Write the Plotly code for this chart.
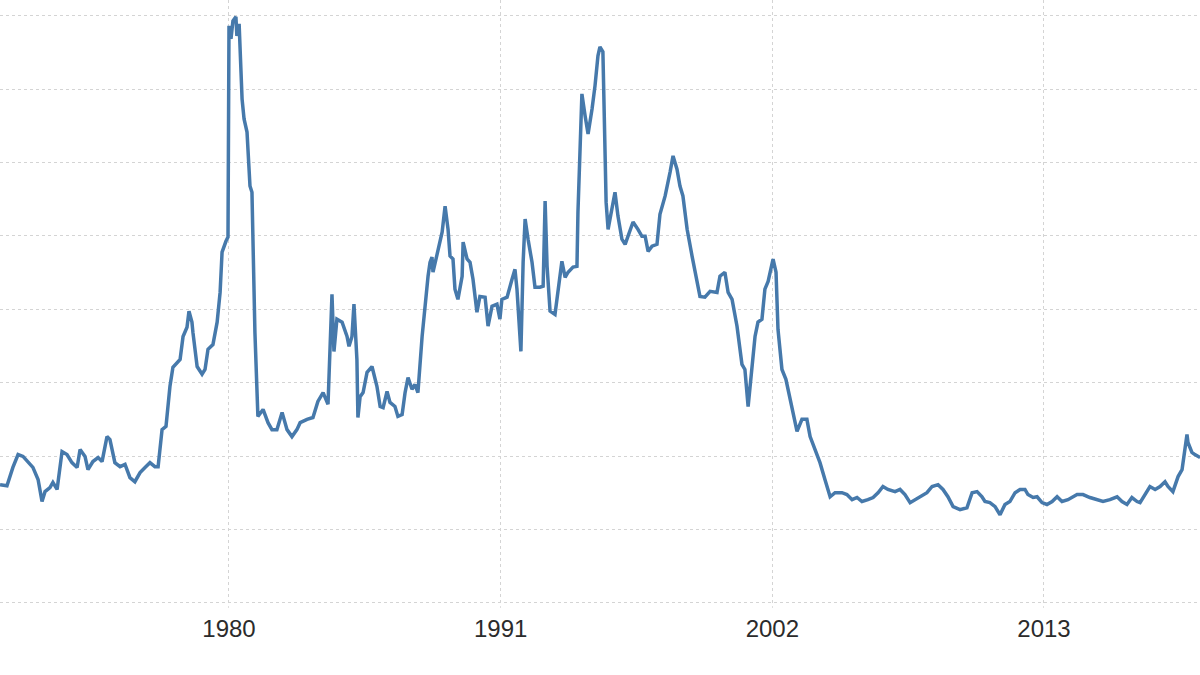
import plotly.graph_objects as go

years = [
    1970.73, 1971.01, 1971.25, 1971.46, 1971.66, 1971.86, 1972.06, 1972.27, 1972.43, 1972.55,
    1972.75, 1972.87, 1973.04, 1973.24, 1973.44, 1973.64, 1973.85, 1973.97, 1974.17, 1974.29,
    1974.49, 1974.70, 1974.86, 1975.06, 1975.18, 1975.38, 1975.59, 1975.79, 1975.99, 1976.19,
    1976.40, 1976.60, 1976.80, 1977.00, 1977.13, 1977.29, 1977.45, 1977.61, 1977.73, 1978.02,
    1978.14, 1978.30, 1978.38, 1978.50, 1978.54, 1978.71, 1978.91, 1979.03, 1979.15, 1979.35,
    1979.52, 1979.64, 1979.72, 1979.88, 1979.96, 1980.00, 1980.08, 1980.16, 1980.28, 1980.32,
    1980.41, 1980.53, 1980.61, 1980.73, 1980.85, 1980.93, 1981.05, 1981.17, 1981.38, 1981.58,
    1981.74, 1981.94, 1982.15, 1982.35, 1982.55, 1982.75, 1982.88, 1983.16, 1983.40, 1983.60,
    1983.81, 1984.01, 1984.17, 1984.25, 1984.37, 1984.58, 1984.78, 1984.86, 1984.98, 1985.06,
    1985.18, 1985.22, 1985.31, 1985.43, 1985.59, 1985.79, 1985.99, 1986.12, 1986.24, 1986.40,
    1986.52, 1986.72, 1986.84, 1987.01, 1987.13, 1987.25, 1987.41, 1987.53, 1987.65, 1987.82,
    1987.94, 1988.06, 1988.14, 1988.22, 1988.26, 1988.42, 1988.63, 1988.75, 1988.87, 1988.95,
    1989.07, 1989.15, 1989.27, 1989.44, 1989.48, 1989.64, 1989.76, 1989.88, 1989.96, 1990.04,
    1990.16, 1990.37, 1990.49, 1990.65, 1990.85, 1990.97, 1991.05, 1991.26, 1991.46, 1991.58,
    1991.66, 1991.82, 1991.91, 1991.99, 1992.11, 1992.27, 1992.39, 1992.59, 1992.72, 1992.80,
    1992.88, 1993.00, 1993.20, 1993.32, 1993.48, 1993.61, 1993.73, 1993.93, 1994.09, 1994.13,
    1994.29, 1994.42, 1994.54, 1994.70, 1994.82, 1994.94, 1995.02, 1995.14, 1995.19, 1995.27,
    1995.35, 1995.51, 1995.63, 1995.75, 1995.91, 1996.04, 1996.24, 1996.36, 1996.56, 1996.72,
    1996.85, 1996.97, 1997.13, 1997.33, 1997.45, 1997.66, 1997.86, 1997.98, 1998.14, 1998.26,
    1998.38, 1998.55, 1998.75, 1998.95, 1999.07, 1999.27, 1999.48, 1999.76, 1999.88, 2000.08,
    2000.21, 2000.37, 2000.57, 2000.77, 2000.89, 2001.02, 2001.18, 2001.30, 2001.42, 2001.58,
    2001.70, 2001.83, 2002.03, 2002.15, 2002.23, 2002.39, 2002.55, 2002.72, 2002.92, 2003.00,
    2003.20, 2003.40, 2003.53, 2003.73, 2003.93, 2004.13, 2004.34, 2004.54, 2004.82, 2005.02,
    2005.23, 2005.43, 2005.63, 2005.87, 2006.08, 2006.28, 2006.48, 2006.68, 2006.97, 2007.17,
    2007.37, 2007.58, 2007.78, 2007.98, 2008.26, 2008.47, 2008.71, 2008.91, 2009.11, 2009.32,
    2009.60, 2009.88, 2010.09, 2010.29, 2010.49, 2010.61, 2010.81, 2011.02, 2011.22, 2011.42,
    2011.62, 2011.83, 2012.03, 2012.23, 2012.35, 2012.56, 2012.72, 2012.92, 2013.12, 2013.33,
    2013.53, 2013.73, 2013.97, 2014.34, 2014.58, 2014.86, 2015.15, 2015.39, 2015.67, 2015.96,
    2016.16, 2016.36, 2016.56, 2016.77, 2016.89, 2017.09, 2017.29, 2017.50, 2017.70, 2017.90,
    2018.02, 2018.22, 2018.43, 2018.59, 2018.71, 2018.79, 2018.83, 2018.99, 2019.11, 2019.32,
]

values = [
    3.22, 3.19, 3.69, 4.04, 3.99, 3.85, 3.69, 3.36, 2.76, 3.03,
    3.14, 3.28, 3.09, 4.12, 4.04, 3.82, 3.69, 4.18, 3.99, 3.63,
    3.85, 3.96, 3.85, 4.53, 4.45, 3.82, 3.71, 3.77, 3.41, 3.30,
    3.55, 3.69, 3.82, 3.71, 3.71, 4.72, 4.81, 5.90, 6.42, 6.63,
    7.26, 7.51, 7.95, 7.65, 7.37, 6.44, 6.23, 6.36, 6.91, 7.04,
    7.65, 8.46, 9.56, 9.86, 9.97, 15.73, 15.37, 15.86, 15.97, 15.45,
    15.78, 13.73, 13.19, 12.83, 11.36, 11.19, 7.37, 5.08, 5.27, 4.91,
    4.72, 4.72, 5.19, 4.72, 4.53, 4.72, 4.91, 5.00, 5.05, 5.49,
    5.73, 5.41, 8.41, 6.85, 7.73, 7.65, 7.26, 6.99, 7.26, 8.14,
    6.63, 5.05, 5.62, 5.73, 6.28, 6.44, 5.90, 5.35, 5.32, 5.76,
    5.46, 5.35, 5.08, 5.13, 5.73, 6.14, 5.82, 5.95, 5.73, 7.26,
    8.19, 8.90, 9.28, 9.42, 9.01, 9.45, 10.10, 10.81, 10.18, 9.45,
    9.37, 8.55, 8.27, 8.90, 9.83, 9.37, 9.28, 8.82, 8.27, 7.92,
    8.35, 8.33, 7.54, 8.08, 8.14, 7.73, 8.27, 8.33, 8.82, 9.09,
    8.55, 6.85, 9.28, 10.46, 9.91, 9.28, 8.60, 8.60, 8.63, 10.95,
    9.17, 7.95, 7.86, 8.46, 9.31, 8.87, 9.01, 9.15, 9.17, 10.65,
    13.87, 13.27, 12.78, 13.46, 14.09, 14.91, 15.15, 15.02, 12.91, 10.92,
    10.18, 10.81, 11.19, 10.54, 9.91, 9.77, 10.18, 10.38, 10.18, 9.99,
    9.99, 9.58, 9.72, 9.77, 10.59, 11.09, 11.74, 12.18, 11.82, 11.36,
    11.09, 10.18, 9.45, 8.74, 8.35, 8.33, 8.49, 8.46, 8.90, 9.01,
    8.46, 8.27, 7.54, 6.50, 6.36, 5.35, 6.55, 7.26, 7.65, 7.73,
    8.55, 8.76, 9.37, 9.01, 7.45, 6.36, 6.09, 5.54, 5.00, 4.67,
    5.00, 5.00, 4.53, 4.18, 3.82, 3.36, 2.89, 3.00, 3.00, 2.95,
    2.81, 2.87, 2.76, 2.81, 2.87, 3.00, 3.17, 3.09, 3.03, 3.09,
    2.95, 2.73, 2.81, 2.87, 3.00, 3.17, 3.22, 3.09, 2.89, 2.62,
    2.54, 2.59, 3.00, 3.03, 2.89, 2.76, 2.73, 2.62, 2.40, 2.68,
    2.76, 3.00, 3.09, 3.09, 2.95, 2.87, 2.89, 2.73, 2.68, 2.76,
    2.89, 2.76, 2.81, 2.95, 2.95, 2.87, 2.81, 2.76, 2.81, 2.89,
    2.76, 2.68, 2.87, 2.76, 2.73, 2.95, 3.17, 3.09, 3.17, 3.30,
    3.17, 3.03, 3.44, 3.63, 4.18, 4.59, 4.37, 4.10, 4.04, 3.96,
]

tick_years = [1980, 1991, 2002, 2013]
tick_labels = ["1980", "1991", "2002", "2013"]

fig = go.Figure()
fig.add_trace(go.Scatter(
    x=years, y=values, mode="lines",
    line=dict(color="#4679ab", width=3.5),
    hoverinfo="skip", showlegend=False,
))

grid_color = "#d4d4d4"
fig.update_layout(
    width=1200, height=675,
    margin=dict(l=0, r=0, t=0, b=70),
    paper_bgcolor="white", plot_bgcolor="white",
    font=dict(family="Liberation Sans, Arial, sans-serif", color="#2b2b2b"),
    xaxis=dict(
        range=[1970.728, 2019.317],
        tickmode="array", tickvals=tick_years, ticktext=tick_labels,
        showgrid=True, gridcolor=grid_color, griddash="dot", gridwidth=1,
        zeroline=False, showline=False,
        ticks="outside", ticklen=2, tickcolor="#e0e0e0",
        tickfont=dict(size=24, color="#2b2b2b"),
    ),
    yaxis=dict(
        range=[-0.06, 16.43],
        dtick=2, tick0=0,
        showgrid=True, gridcolor=grid_color, griddash="dot", gridwidth=1,
        zeroline=False, showline=False, showticklabels=False,
    ),
)

fig.write_html("out.html")
